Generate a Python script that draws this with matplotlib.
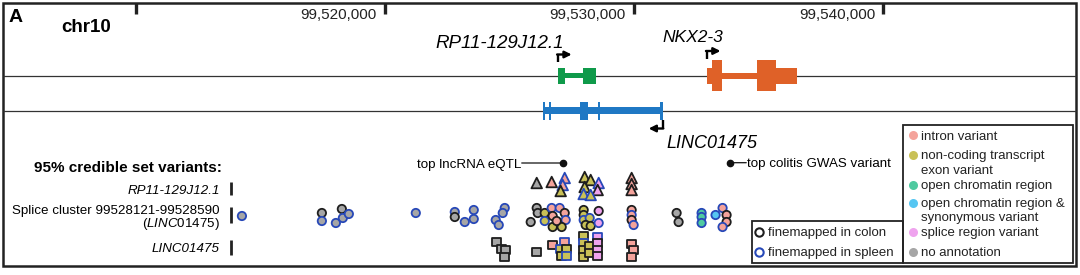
import matplotlib
matplotlib.use('Agg')
import matplotlib.pyplot as plt
from matplotlib.patches import Rectangle

plt.rcParams['font.family'] = ['Liberation Sans', 'DejaVu Sans']
plt.rcParams['mathtext.fontset'] = 'custom'
plt.rcParams['mathtext.rm'] = 'Liberation Sans'
plt.rcParams['mathtext.it'] = 'Liberation Sans:italic'

# ---- data ----
chrom = 'chr10'
tick_pos = [99510000, 99520000, 99530000, 99540000]
tick_lab = ['', '99,520,000', '99,530,000', '99,540,000']

# gene models: (start, end, kind)
rp11_exons = [(99526940, 99527220, 'utr'), (99527940, 99528460, 'utr')]
nkx_exons = [(99532915, 99533115, 'utr'), (99533115, 99533515, 'cds'),
             (99534920, 99535685, 'cds'), (99535685, 99536525, 'utr')]
linc_exons = [(99526330, 99526440), (99526570, 99526670), (99527820, 99528140),
              (99528560, 99528640), (99531050, 99531150)]

top_eqtl_pos = 99527140
top_gwas_pos = 99533866

# credible set variants per row: position, stacking offset, annotation, tissue
tri_pos = [99526097, 99526698, 99527220, 99527140, 99527059, 99528022, 99528263, 99528022,
           99528584, 99528543, 99527982, 99528263, 99529907, 99529907, 99529907]
tri_off = [-4, -5, -9, -2, 4, -10, -7, 0, -4, 3, 7, 8, -9, -3, 3]
tri_ann = ['none', 'intron', 'intron', 'intron', 'exon', 'exon', 'exon', 'exon',
           'splice', 'splice', 'exon', 'exon', 'intron', 'intron', 'intron']
tri_tis = ['c', 'c', 's', 's', 'c', 'c', 'c', 'c', 's', 'c', 's', 's', 'c', 'c', 'c']

cir_pos = [99514264, 99517473, 99517473, 99518275, 99518035, 99518315, 99518556, 99521243,
           99522808, 99522808, 99523209, 99523570, 99523570, 99524813, 99524733, 99524452,
           99524573, 99526097, 99526137, 99525856, 99526418, 99526418, 99526698, 99526738,
           99526738, 99527019, 99527220, 99527260, 99527099, 99526899, 99527982, 99527982,
           99527982, 99528223, 99528062, 99528263, 99528584, 99528584, 99529907, 99529907,
           99529907, 99529987, 99531712, 99531792, 99532715, 99532715, 99532715, 99533276,
           99533557, 99533718, 99533718, 99533557]
cir_off = [1, -2, 6, -6, 8, 3, -1, -2, -3, 2, 7, -5, 4, -7, -2, 5, 10, -7, -2, 7, -2, 6,
           -7, 1, 12, -7, -2, 5, 12, 6, -5, 0, 5, 3, 10, 11, -4, 8, -5, 0, 5, 10, -2, 7,
           -2, 2, 8, 0, -7, 0, 7, 12]
cir_ann = ['none'] * 20 + ['exon', 'exon', 'intron', 'intron', 'exon', 'intron', 'intron',
                           'intron', 'exon', 'intron', 'exon', 'exon', 'exon', 'exon',
                           'exon', 'exon', 'splice', 'splice', 'intron', 'intron', 'intron',
                           'intron', 'none', 'none', 'chrom', 'chrom', 'chrom', 'chrom_syn',
                           'intron', 'intron', 'intron', 'intron']
cir_tis = ['s', 'c', 's', 'c', 's', 's', 's', 's', 's', 'c', 's', 's', 's', 's', 's', 's',
           's', 'c', 'c', 'c', 'c', 's', 's', 'c', 'c', 's', 'c', 's', 'c', 'c', 'c', 'c',
           's', 's', 'c', 'c', 'c', 's', 'c', 's', 'c', 's', 'c', 'c', 's', 's', 's', 's',
           's', 'c', 'c', 's']

sq_pos = [99524492, 99524693, 99524853, 99524813, 99526097, 99526738, 99527220, 99527059,
          99527300, 99527099, 99527300, 99527982, 99527982, 99527982, 99527982, 99528223,
          99528223, 99528543, 99528543, 99528543, 99528543, 99529907, 99529987, 99529907]
sq_off = [-5, 2, 3, 10, 5, -2, -5, 2, 2, 9, 9, -11, -4, 3, 10, -1, 6, -10, -4, 3, 9, -3, 3, 10]
sq_ann = ['none'] * 5 + ['intron', 'intron', 'exon', 'exon', 'exon', 'exon', 'exon', 'exon',
                         'exon', 'exon', 'exon', 'exon', 'splice', 'splice', 'splice',
                         'splice', 'intron', 'intron', 'intron']
sq_tis = ['c', 'c', 'c', 'c', 'c', 'c', 's', 's', 'c', 'c', 's', 'c', 's', 'c', 'c', 'c',
          'c', 's', 'c', 'c', 'c', 'c', 'c', 'c']

row_labels = ['RP11-129J12.1', 'Splice cluster 99528121-99528590', 'LINC01475']

ann_keys = ['intron', 'exon', 'chrom', 'chrom_syn', 'splice', 'none']
ann_labels = ['intron variant', 'non-coding transcript\nexon variant', 'open chromatin region',
              'open chromatin region &\nsynonymous variant', 'splice region variant',
              'no annotation']
tis_labels = ['finemapped in colon', 'finemapped in spleen']

# ---- styles ----
ann_colors = {'intron': '#f4a39b', 'exon': '#c9c157', 'chrom': '#4fcaa0',
              'chrom_syn': '#56c6f2', 'splice': '#efa3ee', 'none': '#a6a6a6'}
tis_colors = {'c': '#1e1e1e', 's': '#2748b8'}
GREEN, ORANGE, BLUE = '#0f9a4a', '#df6128', '#1f78c4'

fig = plt.figure(figsize=(10.8, 2.75), dpi=100)
lay = fig.add_axes([0, 0, 1, 1])
lay.set_xlim(0, 1080)
lay.set_ylim(275, 0)
lay.axis('off')

ax = fig.add_axes([0, 0, 1, 1])
bp_per_px = 40.14
x0 = 99510000 - 135.7 * bp_per_px
ax.set_xlim(x0, x0 + 1080 * bp_per_px)
ax.set_ylim(275, 0)
ax.axis('off')
ax.patch.set_alpha(0)

# frame and separators
lay.add_patch(Rectangle((3, 3), 1073, 263, fill=False, lw=1.8, ec='#222'))
lay.hlines([75.7, 110.7], 3, 1076, lw=0.9, color='#333')
lay.text(8.5, 22, 'A', fontsize=14, fontweight='bold', va='baseline')
lay.text(61, 31.5, chrom, fontsize=13.5, fontweight='bold', va='baseline')

# genomic ticks
ax.vlines(tick_pos, 3, 13.5, lw=2.4, color='#222')
for p, lab in zip(tick_pos, tick_lab):
    ax.annotate(lab, (p, 19.3), xytext=(-5.8, 0), textcoords='offset points',
                ha='right', va='baseline', fontsize=11, color='#222')


def gene(exons, yc, color, hmap, intron_h):
    s, e = exons[0][0], exons[-1][1]
    ax.add_patch(Rectangle((s, yc - intron_h / 2), e - s, intron_h, color=color, lw=0))
    for ex in exons:
        h = hmap[ex[2]] if len(ex) > 2 else hmap['exon']
        ax.add_patch(Rectangle((ex[0], yc - h / 2), ex[1] - ex[0], h, color=color, lw=0))


gene(rp11_exons, 75.5, GREEN, {'utr': 16, 'cds': 31}, 5.5)
gene(nkx_exons, 75.5, ORANGE, {'utr': 16, 'cds': 31}, 6)
gene(linc_exons, 110.7, BLUE, {'exon': 18}, 6.5)


def tss(x, y_from, y_to, direction):
    ax.plot([x, x], [y_from, y_to], color='k', lw=1.7, solid_capstyle='butt')
    ax.annotate('', xy=(x + direction * 560, y_to), xytext=(x - direction * 25, y_to),
                arrowprops=dict(arrowstyle='-|>', lw=1.7, color='k',
                                mutation_scale=10, shrinkA=0, shrinkB=0))


tss(rp11_exons[0][0], 62, 54.5, 1)
tss(nkx_exons[0][0], 58.5, 51, 1)
tss(linc_exons[-1][1], 120, 128.5, -1)

ax.text(rp11_exons[0][0] + 260, 47.5, 'RP11-129J12.1', fontsize=13.5, style='italic',
        ha='right', va='baseline')
ax.text(nkx_exons[0][0] - 550, 42, 'NKX2-3', fontsize=12.5, style='italic',
        ha='center', va='baseline')
ax.text(linc_exons[-1][1] + 160, 147.5, 'LINC01475', fontsize=13, style='italic',
        ha='left', va='baseline')

# row labels
lay.text(221.7, 171.5, '95% credible set variants:', fontsize=11, fontweight='bold',
         ha='right', va='baseline')
lay.text(220, 194, row_labels[0], fontsize=9.6, style='italic', ha='right', va='baseline')
lay.text(220, 214.3, row_labels[1], fontsize=9.6, ha='right', va='baseline')
lay.text(220, 227.3, r'($\mathit{LINC01475}$)', fontsize=9.6, ha='right', va='baseline')
lay.text(220, 252.5, row_labels[2], fontsize=9.6, style='italic', ha='right', va='baseline')
lay.vlines([230.5, 230.5, 230.5], [181.7, 206.7, 240], [195, 223.3, 255], lw=2, color='#222')

# top variant callouts
ax.plot(top_eqtl_pos, 163, 'o', ms=4.5, color='#111')
ax.annotate('', (top_eqtl_pos, 163), xytext=(-29.5, 0), textcoords='offset points',
            arrowprops=dict(arrowstyle='-', lw=0.9, color='#111', shrinkA=0, shrinkB=0))
ax.annotate('top lncRNA eQTL', (top_eqtl_pos, 163), xytext=(-29.8, -3.4),
            textcoords='offset points', ha='right', va='baseline', fontsize=9.6)
ax.plot(top_gwas_pos, 162.7, 'o', ms=4.5, color='#111')
ax.annotate('', (top_gwas_pos, 162.7), xytext=(11.5, 0), textcoords='offset points',
            arrowprops=dict(arrowstyle='-', lw=0.9, color='#111', shrinkA=0, shrinkB=0))
ax.annotate('top colitis GWAS variant', (top_gwas_pos, 162.7), xytext=(11.8, -3.4),
            textcoords='offset points', ha='left', va='baseline', fontsize=9.6)

# variants
rows = [(tri_pos, tri_off, tri_ann, tri_tis, 187, '^', 58),
        (cir_pos, cir_off, cir_ann, cir_tis, 215, 'o', 36),
        (sq_pos, sq_off, sq_ann, sq_tis, 247, 's', 38)]
for pos, off, ann, tis, yc, mk, size in rows:
    ax.scatter(pos, [yc + o for o in off], marker=mk, s=size,
               c=[ann_colors[a] for a in ann], edgecolors=[tis_colors[t] for t in tis],
               linewidths=1.3, zorder=3)

# annotation legend
lay.add_patch(Rectangle((903, 125), 170, 137.7, fill=False, lw=1.3, ec='#222'))
leg_y = [135, 155, 185, 203, 231.7, 251.7]
for k, lab, y in zip(ann_keys, ann_labels, leg_y):
    lay.plot(912.7, y, 'o', ms=6.5, color=ann_colors[k], mec='none')
    for i, line in enumerate(lab.split('\n')):
        lay.text(921, y + 4.5 + i * 14, line, fontsize=9.5, va='baseline', color='#222')

# tissue legend
lay.add_patch(Rectangle((751.7, 220.7), 151.3, 42, fill=False, lw=1.3, ec='#222'))
for t, lab, y in zip(['c', 's'], tis_labels, [231.7, 251.7]):
    lay.plot(759.3, y, 'o', ms=6, mfc='none', mec=tis_colors[t], mew=1.5)
    lay.text(768.3, y + 4.5, lab, fontsize=9.5, va='baseline', color='#222')

fig.savefig('out.png', dpi=100)
